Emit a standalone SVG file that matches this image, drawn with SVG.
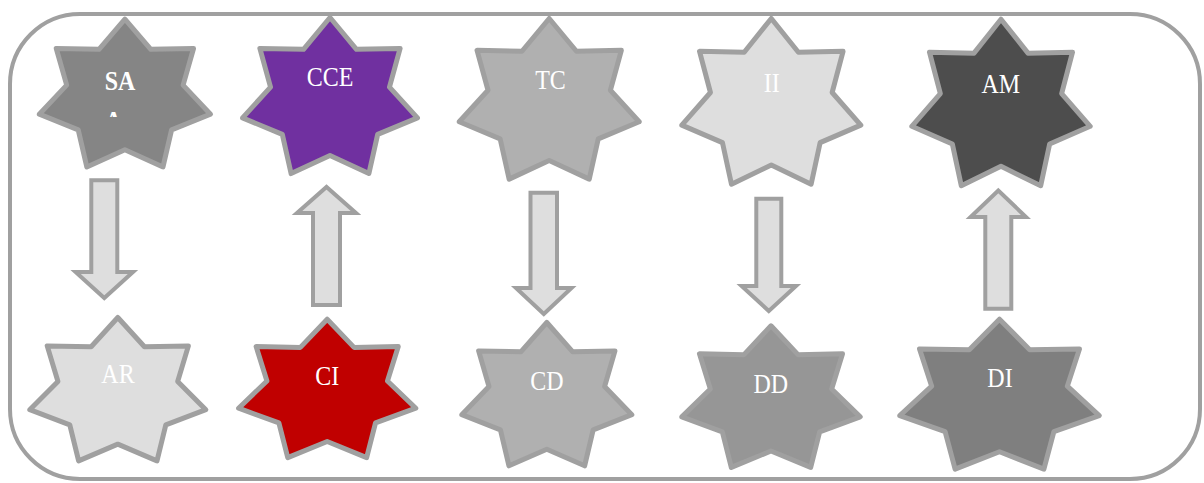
<svg xmlns="http://www.w3.org/2000/svg" xmlns:xlink="http://www.w3.org/1999/xlink" width="1204" height="483" viewBox="0 0 1204 483">
  <style>
    .frame { fill: none; stroke: #a0a0a0; stroke-width: 4; }
    .star { stroke: #a0a0a0; stroke-width: 5; stroke-linejoin: round; vector-effect: non-scaling-stroke; }
    .arrow { fill: #dedede; stroke: #a0a0a0; stroke-width: 4; stroke-linejoin: miter; }
    .lbl { font-family: "Liberation Serif", "Times New Roman", serif; font-size: 24px; fill: #ffffff; text-anchor: middle; }
    .bold { font-weight: bold; }
  </style>
  <defs>
    <!-- unit seven-point star, outer radius 1, inner radius 0.68 -->
    <path id="star7" class="star" d="M0,-1 L0.29504,-0.61266 L0.78183,-0.62349 L0.66295,-0.15131 L0.97493,0.22252 L0.53164,0.42397 L0.43388,0.90097 L0,0.68 L-0.43388,0.90097 L-0.53164,0.42397 L-0.97493,0.22252 L-0.66295,-0.15131 L-0.78183,-0.62349 L-0.29504,-0.61266 Z"/>
    <clipPath id="clip-sa">
      <rect x="60" y="40" width="130" height="77"/>
    </clipPath>
  </defs>

  <rect class="frame" x="10" y="14" width="1190" height="465" rx="70" ry="70"/>

  <g id="connectors">
    <path class="arrow" d="M91.3,180.3 H117.3 V272 H133 L104.3,298 L75.6,272 H91.3 Z"/>
    <path class="arrow" d="M313,305 H340 V213 H356 L326.5,187 L297,213 H313 Z"/>
    <path class="arrow" d="M530.5,192.7 H557 V288 H571.5 L543.8,314 L516,288 H530.5 Z"/>
    <path class="arrow" d="M756.3,198.7 H781.3 V286 H796 L768.8,311 L741.6,286 H756.3 Z"/>
    <path class="arrow" d="M985.3,308.7 H1011.3 V217 H1026 L998.3,190.5 L970.6,217 H985.3 Z"/>
  </g>

  <g id="node-sa">
    <use xlink:href="#star7" fill="#858585" transform="translate(124.9,96.9) scale(87.8,77.7)"/>
    <text class="lbl bold" transform="translate(120,90) scale(1,1.15)">SA</text>
    <g clip-path="url(#clip-sa)">
      <text class="lbl bold" transform="translate(113.5,130.3) scale(1,1.15)">A</text>
    </g>
  </g>

  <g id="node-cce">
    <use xlink:href="#star7" fill="#7030a0" transform="translate(330,99.6) scale(89.7,82.1)"/>
    <text class="lbl" transform="translate(330,86) scale(1,1.15)">CCE</text>
  </g>

  <g id="node-tc">
    <use xlink:href="#star7" fill="#b0b0b0" transform="translate(549.2,103) scale(92.3,84.5)"/>
    <text class="lbl" transform="translate(550.5,89.3) scale(1,1.15)">TC</text>
  </g>

  <g id="node-ii">
    <use xlink:href="#star7" fill="#dedede" transform="translate(771.3,105.7) scale(91.8,87.2)"/>
    <text class="lbl" transform="translate(771.7,91.7) scale(1,1.15)">II</text>
  </g>

  <g id="node-am">
    <use xlink:href="#star7" fill="#4d4d4d" transform="translate(1001,106.8) scale(91.5,87.6)"/>
    <text class="lbl" transform="translate(1000.8,92.7) scale(1,1.15)">AM</text>
  </g>

  <g id="node-ar">
    <use xlink:href="#star7" fill="#dedede" transform="translate(117.8,392.9) scale(90.3,75.4)"/>
    <text class="lbl" transform="translate(118,383.3) scale(1,1.15)">AR</text>
  </g>

  <g id="node-ci">
    <use xlink:href="#star7" fill="#c00000" transform="translate(327.2,392) scale(90.9,72.8)"/>
    <text class="lbl" transform="translate(327.2,385) scale(1,1.15)">CI</text>
  </g>

  <g id="node-cd">
    <use xlink:href="#star7" fill="#b0b0b0" transform="translate(546.8,397.9) scale(87.2,75.4)"/>
    <text class="lbl" transform="translate(547,390) scale(1,1.15)">CD</text>
  </g>

  <g id="node-dd">
    <use xlink:href="#star7" fill="#969696" transform="translate(771,400.3) scale(91.5,74.5)"/>
    <text class="lbl" transform="translate(770.8,392.7) scale(1,1.15)">DD</text>
  </g>

  <g id="node-di">
    <use xlink:href="#star7" fill="#7f7f7f" transform="translate(999.5,398.1) scale(102.3,78.9)"/>
    <text class="lbl" transform="translate(1000,387.3) scale(1,1.15)">DI</text>
  </g>
</svg>
